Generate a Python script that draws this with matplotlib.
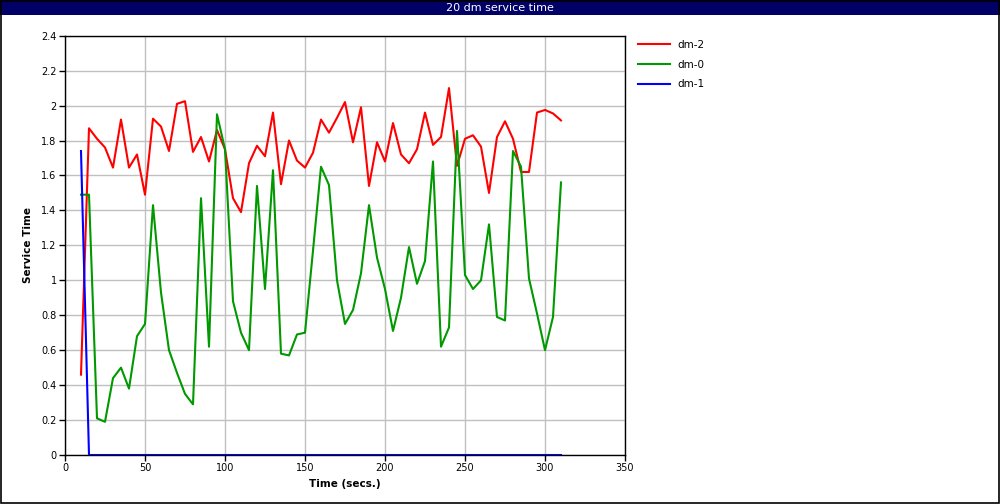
import matplotlib.pyplot as plt
from matplotlib.patches import Rectangle
from matplotlib.ticker import FormatStrFormatter

# sample times (secs.)
times = list(range(10, 315, 5))

dm2 = [0.46, 1.87, 1.81, 1.76, 1.645, 1.92, 1.645, 1.72, 1.49, 1.925,
       1.88, 1.74, 2.01, 2.025, 1.735, 1.82, 1.68, 1.86, 1.75, 1.47,
       1.39, 1.67, 1.77, 1.71, 1.96, 1.55, 1.80, 1.685, 1.645, 1.73,
       1.92, 1.845, 1.93, 2.02, 1.79, 1.99, 1.54, 1.79, 1.68, 1.90,
       1.72, 1.67, 1.75, 1.96, 1.775, 1.82, 2.10, 1.655, 1.81, 1.83,
       1.765, 1.50, 1.82, 1.91, 1.81, 1.62, 1.62, 1.96, 1.975, 1.955,
       1.915]

dm0 = [1.49, 1.49, 0.21, 0.19, 0.44, 0.50, 0.38, 0.68, 0.75, 1.43,
       0.93, 0.60, 0.47, 0.35, 0.29, 1.47, 0.62, 1.95, 1.75, 0.88,
       0.70, 0.60, 1.54, 0.95, 1.63, 0.58, 0.57, 0.69, 0.70, 1.17,
       1.65, 1.545, 1.00, 0.75, 0.83, 1.04, 1.43, 1.13, 0.95, 0.71,
       0.90, 1.19, 0.98, 1.11, 1.68, 0.62, 0.73, 1.855, 1.03, 0.95,
       1.00, 1.32, 0.79, 0.77, 1.74, 1.65, 1.01, 0.81, 0.60, 0.79,
       1.56]

dm1 = [1.74] + [0.0] * 60

series = [("dm-2", dm2, "#ff0000"), ("dm-0", dm0, "#009900"), ("dm-1", dm1, "#0000ff")]

fig = plt.figure(figsize=(10, 5.04), dpi=100)
ax = fig.add_axes([0.065, 0.0972, 0.56, 0.832])

for name, vals, col in series:
    ax.plot(times, vals, color=col, linewidth=1.5, label=name, zorder=3)

ax.set_xlim(0, 350)
ax.set_ylim(0, 2.4)
ax.set_xticks(range(0, 351, 50))
ax.set_yticks([i * 0.2 for i in range(13)])
ax.yaxis.set_major_formatter(FormatStrFormatter('%g'))
ax.grid(True, color='#c0c0c0', linewidth=1)
ax.set_axisbelow(True)
ax.tick_params(direction='out', length=4, width=1, labelsize=7, pad=2)
for s in ax.spines.values():
    s.set_linewidth(1)
ax.set_xlabel('Time (secs.)', fontsize=7.5, fontweight='bold', labelpad=4)
ax.set_ylabel('Service Time', fontsize=7.5, fontweight='bold', labelpad=6)

fig.legend(loc='upper left', bbox_to_anchor=(0.629, 0.94), frameon=False,
           fontsize=7.5, handlelength=3, handletextpad=0.7, labelspacing=0.95)

# title bar and outer border
fig.patches.append(Rectangle((0, 0.970), 1, 0.030, transform=fig.transFigure,
                             facecolor='#000066', edgecolor='none', zorder=0))
fig.text(0.5, 0.985, '20 dm service time', color='white', fontsize=8,
         ha='center', va='center')
fig.patches.append(Rectangle((0.001, 0.002), 0.998, 0.997, transform=fig.transFigure,
                             facecolor='none', edgecolor='black', linewidth=1.2, zorder=5))

plt.savefig('out.png', dpi=100)
